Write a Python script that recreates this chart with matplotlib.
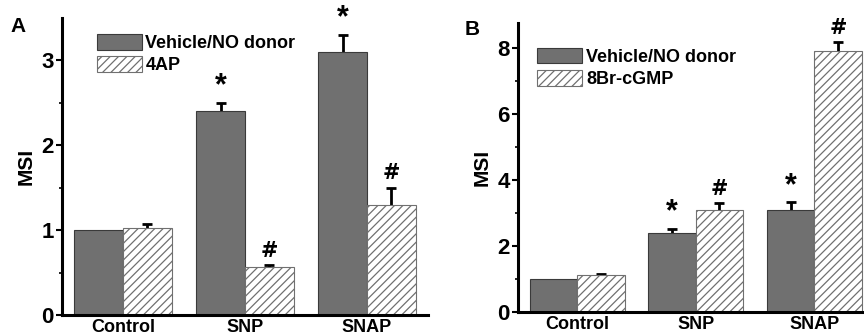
import numpy as np
import matplotlib
matplotlib.use("Agg")
from matplotlib import pyplot as plt

plt.rcParams["font.family"] = ["Liberation Sans", "DejaVu Sans"]
plt.rcParams["font.weight"] = "bold"
plt.rcParams["hatch.color"] = "#8a8a8a"
plt.rcParams["hatch.linewidth"] = 0.9

categories = ["Control", "SNP", "SNAP"]

# panel A
a_vehicle = [1.0, 2.4, 3.1]
a_vehicle_err = [0.0, 0.1, 0.2]
a_treat = [1.02, 0.56, 1.29]
a_treat_err = [0.05, 0.03, 0.21]
a_vehicle_marks = ["", "*", "*"]
a_treat_marks = ["", "#", "#"]

# panel B
b_vehicle = [1.0, 2.4, 3.1]
b_vehicle_err = [0.0, 0.12, 0.22]
b_treat = [1.12, 3.1, 7.9]
b_treat_err = [0.03, 0.2, 0.28]
b_vehicle_marks = ["", "*", "*"]
b_treat_marks = ["", "#", "#"]

DARK = "#707070"
EDGE = "#3a3a3a"
W = 0.4

fig = plt.figure(figsize=(8.64, 3.35), dpi=100, facecolor="white")
ax_a = fig.add_axes([0.0718, 0.0597, 0.4235, 0.887])
ax_b = fig.add_axes([0.5995, 0.0687, 0.4005, 0.862])


def add_errors(ax, xs, vals, errs):
    # symmetric whiskers drawn behind the bars, so only the upper half shows
    for xi, v, e in zip(xs, vals, errs):
        if e > 0:
            ax.errorbar(xi, v, yerr=e, fmt="none", ecolor="black",
                        elinewidth=2, capsize=3.5, capthick=2, zorder=1)


def draw_panel(ax, vehicle, vehicle_err, treat, treat_err, v_marks, t_marks,
               treat_label, ymax, major, minor, xmax, legend_anchor):
    x = np.arange(len(categories))
    ax.bar(x - W / 2, vehicle, W, color=DARK, edgecolor=EDGE,
           linewidth=0.8, label="Vehicle/NO donor", zorder=2)
    ax.bar(x + W / 2, treat, W, color="white", edgecolor="#707070",
           hatch="////", linewidth=0.8, label=treat_label, zorder=2)
    add_errors(ax, x - W / 2, vehicle, vehicle_err)
    add_errors(ax, x + W / 2, treat, treat_err)
    # significance marks
    for xi, v, e, m in zip(x - W / 2, vehicle, vehicle_err, v_marks):
        if m:
            ax.annotate(m, (xi, v + e), xytext=(0, 1), textcoords="offset points",
                        ha="center", va="bottom", fontsize=22, fontweight="bold")
    for xi, v, e, m in zip(x + W / 2, treat, treat_err, t_marks):
        if m:
            ax.annotate(m, (xi, v + e), xytext=(0, 3), textcoords="offset points",
                        ha="center", va="bottom", fontsize=15, fontweight="bold",
                        family="DejaVu Sans")

    ax.set_xlim(-0.5, xmax)
    ax.set_ylim(0, ymax)
    ax.set_xticks(x)
    ax.set_xticklabels(categories, fontsize=13, fontweight="bold")
    ax.set_yticks(np.arange(0, ymax, major))
    ax.set_yticks(np.arange(minor, ymax, minor), minor=True)
    ax.tick_params(axis="y", labelsize=16, width=1.5, length=4, pad=2)
    ax.tick_params(axis="y", which="minor", width=1.2, length=2.5)
    ax.tick_params(axis="x", length=0, pad=3)
    ax.set_ylabel("MSI", fontsize=15, fontweight="bold", labelpad=4)
    for side in ["top", "right"]:
        ax.spines[side].set_visible(False)
    for side in ["left", "bottom"]:
        ax.spines[side].set_linewidth(2.2)
    ax.legend(loc="upper left", bbox_to_anchor=legend_anchor, frameon=False,
              fontsize=13, handlelength=2.5, handleheight=0.95,
              handletextpad=0.2, labelspacing=0.25, borderaxespad=0)


draw_panel(ax_a, a_vehicle, a_vehicle_err, a_treat, a_treat_err,
           a_vehicle_marks, a_treat_marks, "4AP", 3.5, 1, 0.5, 2.5,
           (0.075, 0.97))
draw_panel(ax_b, b_vehicle, b_vehicle_err, b_treat, b_treat_err,
           b_vehicle_marks, b_treat_marks, "8Br-cGMP", 8.75, 2, 1, 2.42,
           (0.035, 0.94))

fig.text(0.012, 0.905, "A", fontsize=15, fontweight="bold")
fig.text(0.538, 0.895, "B", fontsize=15, fontweight="bold")

fig.savefig("out.png", dpi=100)
